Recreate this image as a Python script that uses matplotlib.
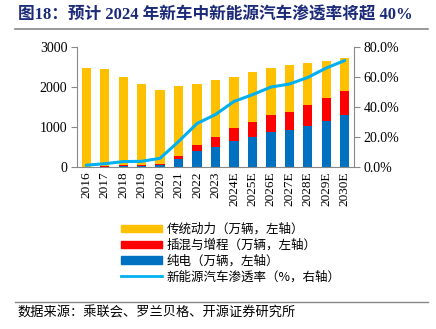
import matplotlib
matplotlib.use("Agg")
import matplotlib.pyplot as plt
from matplotlib.lines import Line2D
from matplotlib.patches import Patch
import numpy as np

years = ["2016", "2017", "2018", "2019", "2020", "2021", "2022", "2023",
         "2024E", "2025E", "2026E", "2027E", "2028E", "2029E", "2030E"]
# 万辆
total = [2467, 2450, 2242, 2075, 1933, 2025, 2067, 2175,
         2258, 2375, 2475, 2558, 2608, 2658, 2717]
bev = [5, 10, 25, 25, 42, 192, 392, 500,
       657, 757, 865, 925, 1015, 1150, 1307]
phev = [3, 5, 35, 25, 33, 75, 150, 257,
        308, 358, 435, 457, 535, 582, 600]
# 新能源汽车渗透率（%）
nev_rate = [1.2, 2.2, 3.6, 3.8, 5.8, 17.0, 29.0, 35.0,
            43.7, 48.2, 53.3, 55.3, 59.7, 66.0, 71.0]

ice = [t - b - p for t, b, p in zip(total, bev, phev)]

YELLOW = "#FFC000"
RED = "#FF0000"
BLUE = "#0070C0"
CYAN = "#00B0F0"
NAVY = "#1C2A7A"

plt.rcParams["font.family"] = ["Liberation Serif", "Noto Sans CJK SC", "DejaVu Sans"]
CJK = ["Noto Sans CJK SC", "DejaVu Sans"]
MIXED = ["Liberation Serif", "Noto Sans CJK SC", "DejaVu Sans"]

fig = plt.figure(figsize=(4.36, 3.29), dpi=100)
W, H = 436, 329
ax = fig.add_axes([77 / W, 1 - 167 / H, (354 - 77) / W, (167 - 47) / H])

x = np.arange(len(years))
bw = 0.5
ax.bar(x, bev, bw, color=BLUE, zorder=2)
ax.bar(x, phev, bw, bottom=bev, color=RED, zorder=2)
ax.bar(x, ice, bw, bottom=[b + p for b, p in zip(bev, phev)], color=YELLOW, zorder=2)

ax.set_xlim(-0.5, len(years) - 0.5)
ax.set_ylim(0, 3000)
ax.set_yticks([0, 1000, 2000, 3000])
ax.set_xticks(x)
ax.set_xticklabels(years, rotation=90, fontsize=9.5)
ax.tick_params(axis="y", labelsize=10, direction="out", length=4, color="#888888", pad=3)
ax.tick_params(axis="x", direction="in", length=3, color="#555555", pad=3)

for s in ["top", "right"]:
    ax.spines[s].set_visible(False)
ax.spines["left"].set_color("#888888")
ax.spines["bottom"].set_color("#888888")

ax2 = ax.twinx()
ax2.plot(x, nev_rate, color=CYAN, lw=2.2, zorder=3, solid_capstyle="round")
ax2.set_ylim(0, 80)
ax2.set_yticks([0, 20, 40, 60, 80])
ax2.set_yticklabels([f"{v:.1f}%" for v in [0, 20, 40, 60, 80]])
ax2.tick_params(axis="y", labelsize=10, direction="out", length=4, color="#888888", pad=3)
for s in ["top", "left", "bottom"]:
    ax2.spines[s].set_visible(False)
ax2.spines["right"].set_color("#888888")

handles = [Patch(color=YELLOW), Patch(color=RED), Patch(color=BLUE),
           Line2D([0], [0], color=CYAN, lw=2)]
labels = ["传统动力（万辆，左轴）", "插混与增程（万辆，左轴）",
          "纯电（万辆，左轴）", "新能源汽车渗透率（%，右轴）"]
leg = fig.legend(handles, labels, loc="upper left",
                 bbox_to_anchor=(116 / W, 1 - 218 / H), frameon=False,
                 prop={"family": CJK, "size": 9}, handlelength=3.3,
                 handleheight=0.55, labelspacing=0.22, handletextpad=0.35,
                 borderaxespad=0)

fig.text(18 / W, 1 - 15 / H, "图18：预计 2024 年新车中新能源汽车渗透率将超 40%",
         family=MIXED, fontsize=12, fontweight="bold", color=NAVY,
         ha="left", va="center")
fig.add_artist(Line2D([15 / W, 428 / W], [1 - 29 / H, 1 - 29 / H],
                      color="#888888", lw=1.2))
fig.add_artist(Line2D([15 / W, 428 / W], [1 - 302 / H, 1 - 302 / H],
                      color="#888888", lw=1.0))
fig.text(17 / W, 1 - 313 / H, "数据来源：乘联会、罗兰贝格、开源证券研究所",
         family=CJK, fontsize=9.5, color="black", ha="left", va="center")

fig.savefig("out.png", dpi=100)
